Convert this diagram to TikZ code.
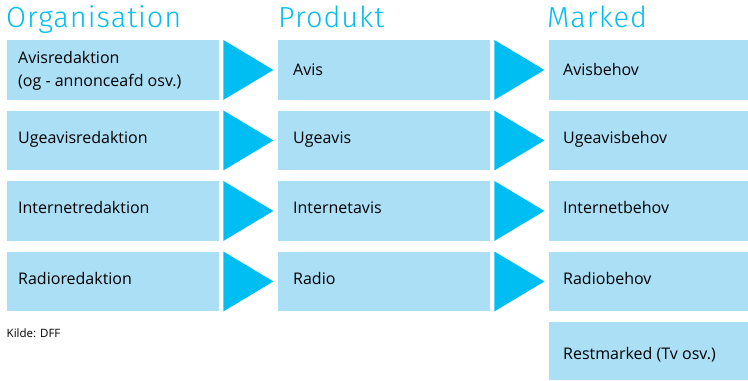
\documentclass[tikz,border=0pt]{standalone}
\usepackage{fontspec}
\setmainfont{Open Sans}
\newfontfamily\hdrfont{Fira Sans}[UprightFont={* Light},LetterSpace=3.3]
\usetikzlibrary{calc}
\definecolor{boxblue}{HTML}{ABDFF6}
\definecolor{tricyan}{HTML}{00BDF2}
\tikzset{
  px/.style={x=1bp,y=-1bp},
  boxnode/.style={fill=boxblue,draw=none,minimum width=212bp,minimum height=59.5bp,anchor=north west,inner sep=0pt},
  lastbox/.style={fill=boxblue,draw=none,minimum width=199bp,minimum height=59.5bp,anchor=north west,inner sep=0pt},
  txt/.style={anchor=base west,inner sep=0pt,font=\fontsize{16bp}{19bp}\selectfont},
  hdr/.style={anchor=base west,inner sep=0pt,text=tricyan,font=\hdrfont\fontsize{29bp}{30bp}\selectfont},
  trifill/.style={fill=tricyan,draw=none},
}
\begin{document}
\begin{tikzpicture}[px]
\useasboundingbox (0,0) rectangle (748,380);
% headers
\node[hdr] (h1) at (6,27) {Organisation};
\node[hdr] (h2) at (278,27) {Produkt};
\node[hdr] (h3) at (547,27) {Marked};
% column 1
\node[boxnode] (o1) at (7,40) {};
\node[boxnode] (o2) at (7,110.5) {};
\node[boxnode] (o3) at (7,181) {};
\node[boxnode] (o4) at (7,251.5) {};
% column 2
\node[boxnode] (p1) at (278,40) {};
\node[boxnode] (p2) at (278,110.5) {};
\node[boxnode] (p3) at (278,181) {};
\node[boxnode] (p4) at (278,251.5) {};
% column 3
\node[lastbox] (m1) at (549,40) {};
\node[lastbox] (m2) at (549,110.5) {};
\node[lastbox] (m3) at (549,181) {};
\node[lastbox] (m4) at (549,251.5) {};
\node[lastbox,minimum height=58bp] (m5) at (549,322) {};
% texts
\node[txt] (t11) at (18,63.5) {Avisredaktion};
\node[txt] (t12) at (18,86) {(og - annonceafd osv.)};
\node[txt] (t2) at (18,143) {Ugeavisredaktion};
\node[txt] (t3) at (18,213) {Internetredaktion};
\node[txt] (t4) at (18,284) {Radioredaktion};
\node[txt] (u1) at (293,75) {Avis};
\node[txt] (u2) at (293,143) {Ugeavis};
\node[txt] (u3) at (293,213) {Internetavis};
\node[txt] (u4) at (293,284) {Radio};
\node[txt] (v1) at (563,75) {Avisbehov};
\node[txt] (v2) at (563,143) {Ugeavisbehov};
\node[txt] (v3) at (563,213) {Internetbehov};
\node[txt] (v4) at (563,284) {Radiobehov};
\node[txt] (v5) at (563,359) {Restmarked (Tv osv.)};
\node[anchor=base west,inner sep=0pt,font=\fontsize{11.5bp}{13bp}\selectfont] (src) at (6.5,337) {Kilde: DFF};
% triangles
\foreach \a/\b in {o1/p1,o2/p2,o3/p3,o4/p4,p1/m1,p2/m2,p3/m3,p4/m4}{
  \fill[trifill] ($(\a.north east)+(4bp,0)$) -- ($(\a.east)+(54bp,0)$) -- ($(\a.south east)+(4bp,0)$) -- cycle;
}
\end{tikzpicture}
\end{document}
